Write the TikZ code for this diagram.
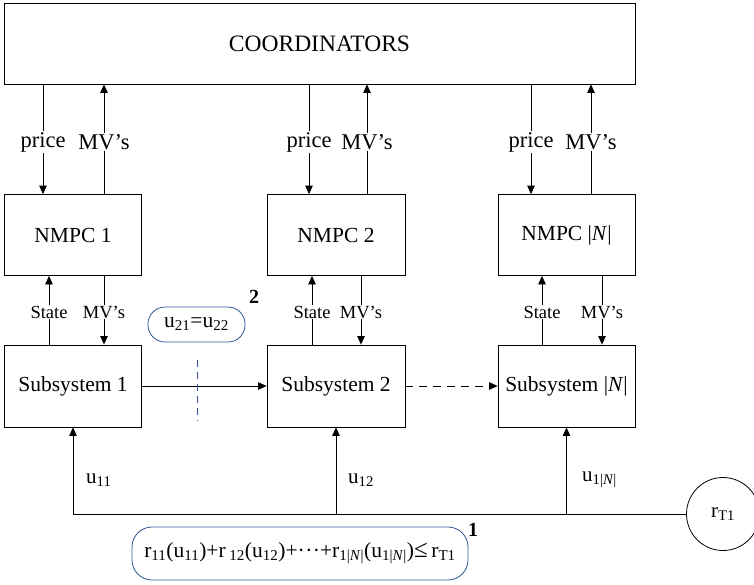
\documentclass[tikz,border=0pt]{standalone}
\usepackage{fontspec}
\setmainfont{Liberation Serif}
\usetikzlibrary{arrows.meta,calc}
\definecolor{balloonblue}{RGB}{47,84,150}
\begin{document}
\begin{tikzpicture}[x=1pt,y=-1pt,
  box/.style={draw,line width=0.8pt,minimum width=137pt,minimum height=81pt,inner sep=0pt,font=\fontsize{21.5}{24}\selectfont},
  arr/.style={line width=0.8pt,-{Triangle[length=8.5pt,width=7.5pt]}},
  conn/.style={line width=0.8pt},
  biglbl/.style={fill=white,inner sep=1pt,font=\fontsize{22.5}{24}\selectfont},
  smalllbl/.style={fill=white,inner sep=1pt,font=\fontsize{18.5}{20}\selectfont},
  ulbl/.style={inner sep=0pt,font=\fontsize{21}{24}\selectfont},
  balloon/.style={draw=balloonblue,line width=0.8pt,rounded corners=17pt,inner sep=0pt,font=\fontsize{21.5}{24}\selectfont},
  numlbl/.style={inner sep=0pt,font=\fontsize{20}{22}\selectfont\bfseries}
]
\useasboundingbox (0,0) rectangle (754,584);
% boxes
\node[box,minimum width=631pt,font=\fontsize{23.5}{26}\selectfont] (coord) at (319.5,43.5) {COORDINATORS};
\node[box] (nmpc1) at (73,235) {NMPC 1};
\node[box,minimum width=138pt] (nmpc2) at (336,235) {NMPC 2};
\node[box] (nmpc3) at (566.5,235) {NMPC |\textit{N}|};
\node[box,minimum height=82pt] (sub1) at (73,386) {Subsystem 1};
\node[box,minimum width=138pt,minimum height=82pt] (sub2) at (336,386) {Subsystem 2};
\node[box,minimum height=82pt] (sub3) at (566.5,386) {Subsystem |\textit{N}|};
\node[draw,circle,line width=0.8pt,minimum size=73pt,inner sep=0pt,font=\fontsize{21}{24}\selectfont] (rT) at (723,514) {r\textsubscript{T1}};
% x positions of vertical connectors
\coordinate (p1) at (43,0);  \coordinate (m1) at (104,0);
\coordinate (p2) at (309,0); \coordinate (m2) at (367,0);
\coordinate (p3) at (531,0); \coordinate (m3) at (591,0);
\coordinate (s1) at (49,0);  \coordinate (v1) at (104,0);
\coordinate (s2) at (312,0); \coordinate (v2) at (361,0);
\coordinate (s3) at (542,0); \coordinate (v3) at (602,0);
\coordinate (ly) at (0,142);
\coordinate (sy) at (0,312);
% coordinator <-> NMPC
\foreach \p/\m/\n in {p1/m1/nmpc1,p2/m2/nmpc2,p3/m3/nmpc3}{
  \draw[arr] (coord.south -| \p) -- (\n.north -| \p);
  \draw[arr] (\n.north -| \m) -- (coord.south -| \m);
  \node[biglbl] at (\p |- ly) {price};
  \node[biglbl] at (\m |- ly) {MV’s};
}
% NMPC <-> subsystem
\foreach \s/\v/\n/\b in {s1/v1/nmpc1/sub1,s2/v2/nmpc2/sub2,s3/v3/nmpc3/sub3}{
  \draw[arr] (\b.north -| \s) -- (\n.south -| \s);
  \draw[arr] (\n.south -| \v) -- (\b.north -| \v);
  \node[smalllbl] at (\s |- sy) {State};
  \node[smalllbl] at (\v |- sy) {MV’s};
}
% subsystem chain
\draw[arr] (sub1.east) -- (sub2.west);
\draw[arr,dash pattern=on 8pt off 6pt] (sub2.east) -- (sub3.west);
% bus
\coordinate (b1) at (sub1.south |- rT.west);
\coordinate (b2) at (sub2.south |- rT.west);
\coordinate (b3) at (sub3.south |- rT.west);
\draw[conn] (rT.west) -- (b1);
\draw[arr] (b1) -- (sub1.south);
\draw[arr] (b2) -- (sub2.south);
\draw[arr] (b3) -- (sub3.south);
\node[ulbl,anchor=west] (u11) at (86,480) {u\textsubscript{11}};
\node[ulbl,anchor=west] (u12) at (348,480) {u\textsubscript{12}};
\node[ulbl,anchor=west] (u1n) at (582,480) {u\textsubscript{1|\textit{N}|}};
% balloon 2
\node[balloon,minimum width=97pt,minimum height=35pt] (bal2) at (196.5,324.5) {u\textsubscript{21}=u\textsubscript{22}};
\node[numlbl] (n2) at (254,297) {2};
\coordinate (d1) at (197,360);
\coordinate (d2) at (197,421);
\draw[balloonblue,line width=1pt,dash pattern=on 7pt off 5pt] (d1) -- (d2);
% balloon 1
\node[balloon,minimum width=336pt,minimum height=53pt,rounded corners=20pt] (bal1) at (300,553.5) {r\textsubscript{11}(u\textsubscript{11})+r\,\textsubscript{12}(u\textsubscript{12})+·\kern0.5pt·\kern0.5pt·+r\textsubscript{1|\textit{N}|}(u\textsubscript{1|\textit{N}|}){\fontsize{25}{26}\selectfont≤}\,r\textsubscript{T1}};
\node[numlbl] (n1) at (473,530) {1};
\end{tikzpicture}
\end{document}
